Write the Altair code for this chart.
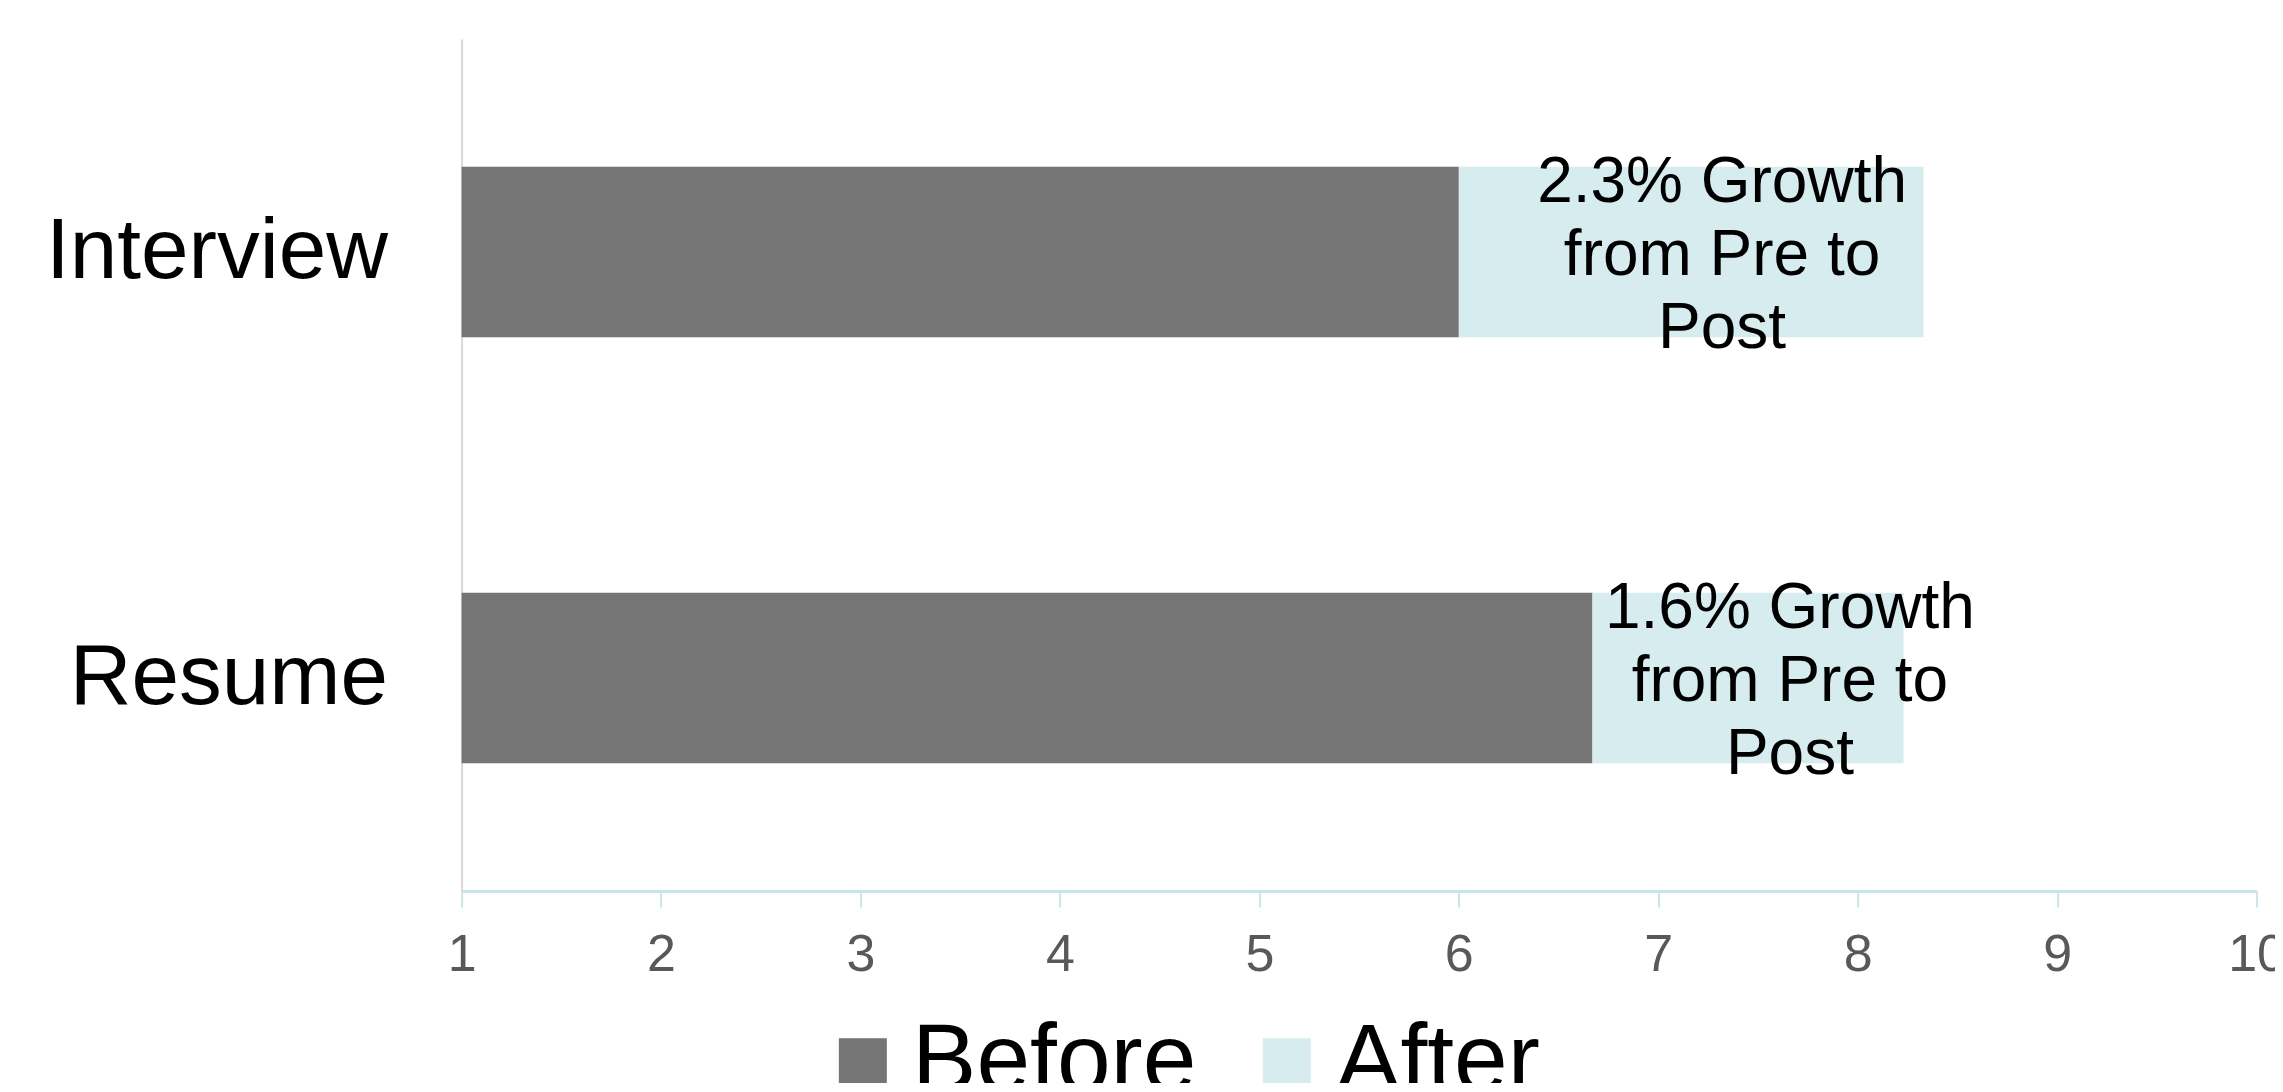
import altair as alt
import pandas as pd

categories = ["Interview", "Resume"]
before_values = [6.0, 6.67]
growth_values = [2.33, 1.56]
label_texts = ["2.3% Growth\nfrom Pre to\nPost", "1.6% Growth\nfrom Pre to\nPost"]
label_positions = [7.32, 7.66]
series_names = ["Before", "After"]
series_colors = ["#757575", "#d6ecef"]
x_ticks = [1, 2, 3, 4, 5, 6, 7, 8, 9, 10]
axis_min = 1
axis_max = 10

rows = []
for c, b, g in zip(categories, before_values, growth_values):
    rows.append({"category": c, "series": "Before", "start": axis_min, "end": b})
    rows.append({"category": c, "series": "After", "start": b, "end": b + g})
bars_df = pd.DataFrame(rows)
labels_df = pd.DataFrame({"category": categories, "label": label_texts, "pos": label_positions})

FONT = "Liberation Sans"

x_scale = alt.Scale(domain=[axis_min, axis_max], nice=False, zero=False)
y_enc = alt.Y(
    "category:N",
    sort=categories,
    scale=alt.Scale(paddingInner=0.6, paddingOuter=0.3),
    axis=alt.Axis(
        title=None, labelFontSize=85.5, labelFont=FONT, labelColor="black",
        labelPadding=74, ticks=False, tickSize=0, domainColor="#d9d9d9",
        domainWidth=2, grid=False, labelLimit=0,
    ),
)

bars = alt.Chart(bars_df).mark_bar().encode(
    x=alt.X(
        "start:Q", scale=x_scale,
        axis=alt.Axis(
            title=None, values=x_ticks, format="d", tickSize=16, tickColor="#c9e5ea",
            tickWidth=2, domainColor="#c9e5ea", domainWidth=3, labelFontSize=52,
            labelFont=FONT, labelColor="#595959", labelPadding=23, grid=False,
            labelFlush=False, labelOverlap=False, labelBound=False,
        ),
    ),
    x2="end:Q",
    y=y_enc,
    color=alt.Color(
        "series:N",
        scale=alt.Scale(domain=series_names, range=series_colors),
        legend=alt.Legend(
            title=None, orient="none", legendX=353, legendY=975,
            direction="horizontal", symbolType="square", symbolSize=2304,
            symbolStrokeWidth=0, labelFontSize=96.5, labelFont=FONT,
            labelColor="black", labelOffset=1, columnPadding=42, labelLimit=0,
        ),
    ),
    order=alt.Order("start:Q"),
)

labels = alt.Chart(labels_df).mark_text(
    fontSize=64, font=FONT, lineBreak="\n", lineHeight=73,
    align="center", baseline="middle", color="black", dy=-69,
).encode(
    x=alt.X("pos:Q", scale=x_scale),
    y=alt.Y("category:N", sort=categories),
    text="label:N",
)

chart = (
    alt.layer(bars, labels)
    .properties(
        width=1795, height=852,
        autosize=alt.AutoSizeParams(type="none"),
        padding={"left": 453.6, "top": 31, "right": 18, "bottom": 192},
    )
    .configure_view(strokeWidth=0)
)

chart.save("out.html", embed_options={"renderer": "svg", "actions": False})
